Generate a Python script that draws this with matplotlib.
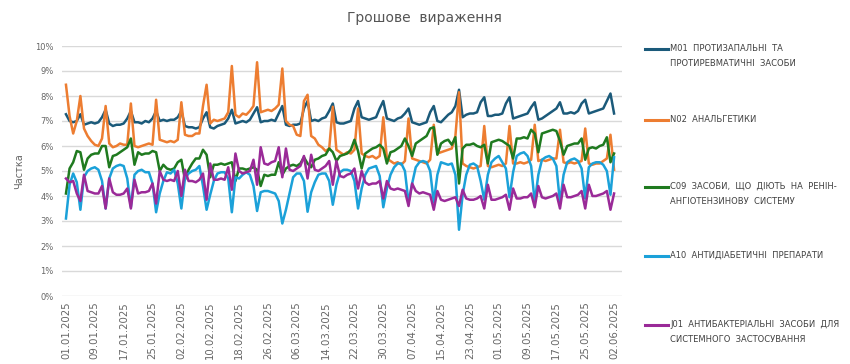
import pandas as pd
import matplotlib
matplotlib.use('Agg')
import matplotlib.pyplot as plt
from matplotlib.lines import Line2D

# daily share of sales value, % (01.01.2025 - 02.06.2025)
dates = pd.date_range('2025-01-01', '2025-06-02', freq='D')

m01 = [7.27, 7.0, 6.95, 7.0, 7.27,
       6.85, 6.9, 6.95, 6.9, 6.95, 7.15, 7.45,
       6.9, 6.8, 6.85, 6.85, 6.9, 7.1, 7.4,
       6.95, 6.95, 6.9, 7.0, 6.95, 7.1, 7.4,
       7.0, 7.05, 7.0, 7.05, 7.05, 7.15, 7.4,
       6.8, 6.75, 6.75, 6.7, 6.75, 7.1, 7.35,
       6.75, 6.7, 6.8, 6.85, 6.9, 7.1, 7.45,
       6.9, 6.95, 7.0, 6.95, 7.05, 7.3, 7.55,
       6.95, 7.0, 7.0, 7.05, 7.0, 7.3, 7.6,
       6.85, 6.8, 6.85, 6.85, 6.9, 7.5, 7.8,
       7.0, 7.05, 7.0, 7.1, 7.15, 7.4, 7.7,
       6.95, 6.9, 6.9, 6.95, 7.0, 7.5, 7.8,
       7.15, 7.1, 7.05, 7.1, 7.15, 7.5, 7.8,
       7.1, 7.05, 7.0, 7.1, 7.15, 7.3, 7.5,
       6.95, 6.9, 6.85, 6.9, 6.95, 7.35, 7.6,
       7.0, 6.95, 7.1, 7.25, 7.35, 7.6, 8.25,
       7.15, 7.25, 7.3, 7.3, 7.35, 7.75, 7.95,
       7.2, 7.2, 7.25, 7.25, 7.3, 7.7, 7.95,
       7.1, 7.15, 7.2, 7.25, 7.3, 7.55, 7.75,
       7.05, 7.1, 7.2, 7.3, 7.4, 7.5, 7.75,
       7.3, 7.3, 7.35, 7.3, 7.4, 7.7, 7.85,
       7.3, 7.35, 7.4, 7.45, 7.5, 7.8, 8.1,
       7.3]

n02 = [8.45, 7.2, 6.5, 7.0, 8.0,
       6.7, 6.4, 6.2, 6.05, 6.0, 6.3, 7.6,
       6.1, 5.95, 6.0, 6.1, 6.05, 6.05, 7.7,
       6.0, 5.95, 6.0, 6.05, 6.1, 6.05, 7.85,
       6.25, 6.2, 6.15, 6.2, 6.15, 6.25, 7.75,
       6.45, 6.4, 6.4, 6.5, 6.5, 7.6, 8.45,
       6.9, 7.05, 7.0, 7.05, 7.1, 7.35, 9.2,
       7.25, 7.15, 7.3, 7.25, 7.4, 7.6, 9.35,
       7.35, 7.4, 7.45, 7.4, 7.5, 7.65, 9.1,
       7.0, 6.85, 6.8, 6.45, 6.4, 7.8, 8.05,
       6.4, 6.3, 6.05, 5.95, 5.8, 5.9, 7.57,
       5.85, 5.75, 5.65, 5.75, 5.7, 5.85, 7.5,
       5.7, 5.6, 5.55, 5.6, 5.5, 5.6, 7.15,
       5.5, 5.4, 5.3, 5.35, 5.25, 5.4, 7.1,
       5.5, 5.45, 5.4, 5.35, 5.3, 5.45, 6.85,
       5.7, 5.75, 5.8, 5.85, 5.9, 6.4, 8.15,
       5.3, 5.2, 5.15, 5.1, 5.15, 5.2, 6.8,
       5.2, 5.15, 5.2, 5.25, 5.2, 5.3, 6.8,
       5.3, 5.3, 5.35, 5.3, 5.35, 5.45, 6.85,
       5.4, 5.45, 5.4, 5.45, 5.5, 5.5, 6.65,
       5.35, 5.3, 5.35, 5.3, 5.35, 5.4, 6.7,
       5.3, 5.25, 5.3, 5.3, 5.4, 5.5, 6.45,
       5.05]

c09 = [4.1, 5.1, 5.35, 5.8, 5.75,
       5.05, 5.5, 5.65, 5.7, 5.7, 6.0, 6.0,
       5.15, 5.6, 5.65, 5.75, 5.85, 5.95, 6.3,
       5.25, 5.75, 5.65, 5.7, 5.7, 5.8, 5.75,
       5.0, 5.25, 5.1, 5.05, 5.1, 5.35, 5.45,
       4.65, 5.05, 5.3, 5.5, 5.5, 5.85, 5.65,
       4.75, 5.25, 5.25, 5.3, 5.25, 5.3, 5.35,
       4.6, 5.1, 5.1, 5.05, 5.1, 5.15, 5.05,
       4.4, 4.85, 4.8, 4.85, 4.85, 5.35, 4.85,
       5.1, 5.2, 5.25, 5.2, 5.3, 5.55, 5.3,
       5.15, 5.45, 5.5, 5.6, 5.65, 5.9, 5.75,
       5.4, 5.6, 5.65, 5.7, 5.85, 6.25, 5.8,
       5.1, 5.7, 5.8, 5.9, 5.95, 6.05, 5.9,
       5.3, 5.75, 5.8, 5.9, 6.0, 6.3, 6.0,
       5.6, 6.1, 6.2, 6.3, 6.4, 6.7, 6.75,
       5.65, 6.1, 6.2, 6.25, 6.05, 6.35, 4.5,
       5.9, 6.05, 6.05, 6.1, 6.0, 5.95, 6.05,
       5.3, 6.15, 6.2, 6.25, 6.2, 6.1, 6.0,
       5.5, 6.3, 6.3, 6.35, 6.3, 6.65, 6.5,
       5.75, 6.5, 6.55, 6.6, 6.65, 6.6, 6.2,
       5.65, 6.0, 6.05, 6.1, 6.1, 6.3, 5.45,
       5.9, 5.95, 5.9, 6.0, 6.05, 6.35, 5.35,
       5.7]

a10 = [3.1, 4.45, 4.9, 4.55, 3.45,
       4.75, 5.0, 5.1, 5.15, 5.05, 4.6, 3.5,
       4.7, 5.1, 5.2, 5.25, 5.2, 4.7, 3.55,
       4.85, 5.0, 5.05, 4.95, 4.95, 4.5, 3.35,
       4.1, 4.6, 4.95, 4.9, 5.05, 4.5, 3.5,
       4.7, 4.9, 5.0, 5.05, 5.2, 4.4, 3.45,
       4.05, 4.6, 4.9, 4.95, 4.95, 4.7, 3.35,
       4.75, 4.7, 4.85, 4.95, 4.85, 4.4, 3.4,
       4.15, 4.2, 4.2, 4.15, 4.1, 3.8, 2.9,
       3.45, 4.1, 4.75, 4.9, 4.9, 4.6, 3.37,
       4.15, 4.55, 4.85, 4.9, 4.9, 4.6, 3.65,
       4.45, 4.95, 5.05, 5.05, 5.0, 4.6, 3.5,
       4.3, 4.85, 5.1, 5.15, 5.2, 4.8, 3.55,
       4.3, 4.85, 5.15, 5.3, 5.3, 5.0, 3.75,
       4.5, 5.15, 5.35, 5.4, 5.35, 5.0, 3.75,
       4.85, 5.35, 5.3, 5.25, 5.3, 4.85, 2.65,
       4.05, 4.85, 5.25, 5.3, 5.2, 4.6, 3.85,
       4.85, 5.35, 5.5, 5.6, 5.35, 5.1, 3.95,
       4.95, 5.6, 5.7, 5.75, 5.6, 5.2, 3.75,
       4.85, 5.45, 5.55, 5.6, 5.5, 5.2, 3.75,
       4.85, 5.35, 5.45, 5.5, 5.4, 5.1, 3.9,
       5.15, 5.3, 5.35, 5.35, 5.25, 5.0, 4.05,
       5.55]

j01 = [4.7, 4.55, 4.6, 4.1, 3.8,
       4.85, 4.2, 4.15, 4.1, 4.1, 4.4, 3.5,
       4.7, 4.15, 4.05, 4.05, 4.1, 4.3, 3.5,
       4.65, 4.1, 4.15, 4.15, 4.2, 4.5, 3.7,
       5.0, 4.65, 4.6, 4.65, 4.6, 5.0, 4.0,
       5.05, 4.6, 4.6, 4.55, 4.65, 4.9, 3.85,
       5.3, 4.65, 4.65, 4.7, 4.65, 5.15, 4.25,
       5.7, 5.0, 4.9, 4.95, 5.0, 5.45, 4.45,
       5.95, 5.3, 5.25, 5.35, 5.4, 5.95, 4.75,
       5.9, 5.05, 5.0, 5.1, 5.2, 5.6, 4.7,
       5.65, 5.05, 5.0, 5.1, 5.2, 5.4, 4.45,
       5.4, 4.8, 4.75, 4.85, 4.9, 5.1, 4.3,
       5.0, 4.55, 4.45, 4.5, 4.5, 4.6, 3.9,
       4.6, 4.3, 4.25, 4.3, 4.25, 4.2, 3.6,
       4.5, 4.2, 4.1, 4.15, 4.1, 4.05, 3.45,
       4.2, 3.85, 3.8, 3.85, 3.9, 3.95, 3.6,
       4.25, 3.9, 3.85, 3.85, 3.9, 4.0, 3.5,
       4.45, 3.85, 3.85, 3.9, 3.95, 4.05, 3.45,
       4.3, 3.9, 3.9, 3.95, 3.95, 4.1, 3.55,
       4.4, 3.95, 3.9, 3.95, 4.0, 4.1, 3.5,
       4.45, 3.95, 3.95, 4.0, 4.05, 4.2, 3.5,
       4.45, 4.0, 4.0, 4.05, 4.1, 4.2, 3.45,
       4.1]

labels = ['M01  ПРОТИЗАПАЛЬНІ  ТА\nПРОТИРЕВМАТИЧНІ  ЗАСОБИ',
          'N02  АНАЛЬГЕТИКИ',
          'C09  ЗАСОБИ,  ЩО  ДІЮТЬ  НА  РЕНІН-\nАНГІОТЕНЗИНОВУ  СИСТЕМУ',
          'A10  АНТИДІАБЕТИЧНІ  ПРЕПАРАТИ',
          'J01  АНТИБАКТЕРІАЛЬНІ  ЗАСОБИ  ДЛЯ\nСИСТЕМНОГО  ЗАСТОСУВАННЯ']
series = [m01, n02, c09, a10, j01]
colors = ['#1b5a7a', '#ed7d31', '#1f7a1f', '#1ba1d9', '#9a2a98']

W, H = 850, 364
fig = plt.figure(figsize=(W / 100, H / 100), dpi=100)
ax = fig.add_axes([62 / W, 1 - 296 / H, 560 / W, 250 / H])

x = list(range(len(dates)))
for vals, col in zip(series, colors):
    ax.plot(x, vals, color=col, lw=1.8, solid_joinstyle='round')

ax.set_ylim(0, 10)
ax.set_xlim(-1.1, 154.2)
ax.set_yticks(range(0, 11))
ax.set_yticklabels([f'{v}%' for v in range(0, 11)])
ticks = x[::8]
ax.set_xticks(ticks)
ax.set_xticklabels([dates[i].strftime('%d.%m.%Y') for i in ticks], rotation=90)
ax.tick_params(axis='both', length=0, colors='#666666')
ax.tick_params(axis='x', labelsize=7.3, pad=4)
ax.tick_params(axis='y', labelsize=6, pad=6)
ax.grid(axis='y', color='#d9d9d9', lw=1)
ax.set_axisbelow(True)
for s in ax.spines.values():
    s.set_visible(False)
ax.set_ylabel('Частка', fontsize=7, color='#666666', labelpad=8)

fig.text(424 / W, 1 - 18 / H, 'Грошове  вираження', ha='center', va='center',
         fontsize=10, color='#555555')

# legend on the right
tops = [49, 120, 187, 256, 325]
for lab, col, yp in zip(labels, colors, tops):
    yf = 1 - yp / H
    fig.add_artist(Line2D([645 / W, 668 / W], [yf, yf], color=col, lw=2.2))
    fig.text(670 / W, yf + 5 / H, lab, ha='left', va='top', fontsize=6,
             color='#404040', linespacing=1.9)

fig.savefig('out.png', dpi=100)
